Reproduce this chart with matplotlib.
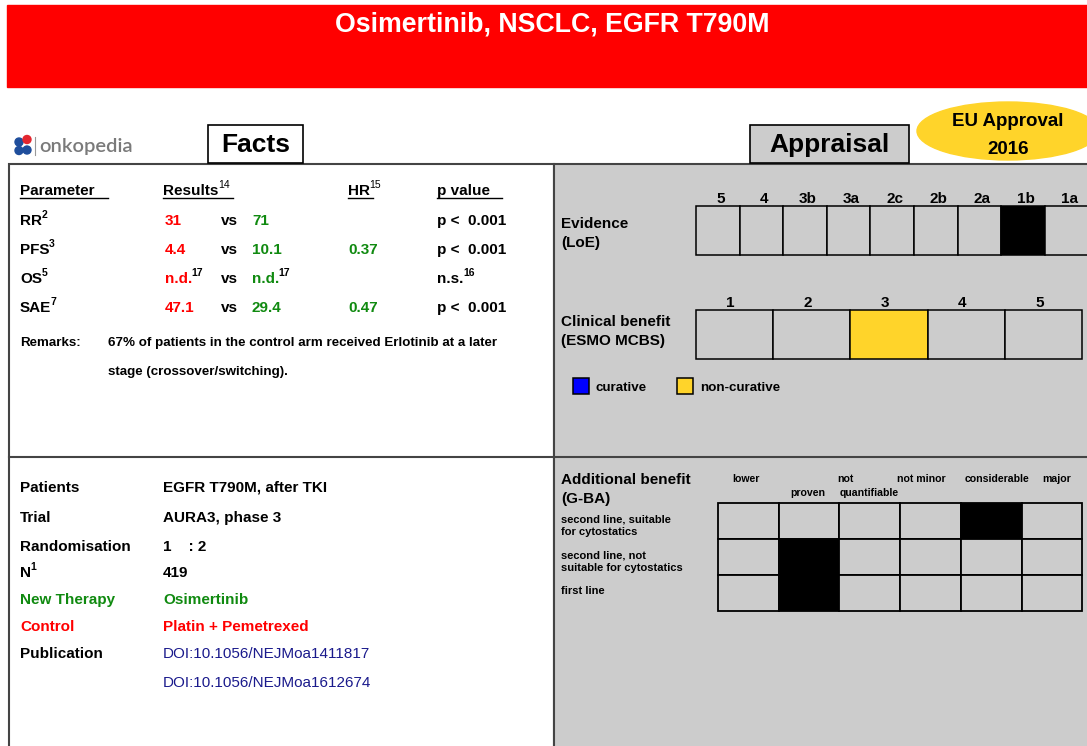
import matplotlib
matplotlib.use('Agg')
import matplotlib.pyplot as plt
from matplotlib.patches import Rectangle, Ellipse, Circle

plt.rcParams['font.family'] = ['Liberation Sans', 'DejaVu Sans']

################################################################################
# Data #
title = 'Osimertinib, NSCLC, EGFR T790M'
approval = ['EU Approval', '2016']

params       = ['RR', 'PFS', 'OS', 'SAE']
param_refs   = ['2', '3', '5', '7']
control_vals = ['31', '4.4', 'n.d.', '47.1']
control_refs = ['', '', '17', '']
new_vals     = ['71', '10.1', 'n.d.', '29.4']
new_refs     = ['', '', '17', '']
hr_vals      = ['', '0.37', '', '0.47']
p_vals       = ['p <  0.001', 'p <  0.001', 'n.s.', 'p <  0.001']
p_refs       = ['', '', '16', '']
remarks      = ['67% of patients in the control arm received Erlotinib at a later',
                'stage (crossover/switching).']

trial_labels = ['Patients', 'Trial', 'Randomisation', 'N', 'New Therapy',
                'Control', 'Publication', '']
trial_refs   = ['', '', '', '1', '', '', '', '']
trial_values = ['EGFR T790M, after TKI', 'AURA3, phase 3', '1    : 2', '419',
                'Osimertinib', 'Platin + Pemetrexed',
                'DOI:10.1056/NEJMoa1411817', 'DOI:10.1056/NEJMoa1612674']
trial_kinds  = ['plain', 'plain', 'plain', 'plain', 'new', 'control', 'doi', 'doi']

loe_levels   = ['5', '4', '3b', '3a', '2c', '2b', '2a', '1b', '1a']
loe_selected = '1b'

mcbs_levels   = ['1', '2', '3', '4', '5']
mcbs_selected = '3'
mcbs_kind     = 'non-curative'

gba_rows = ['second line, suitable\nfor cytostatics',
            'second line, not\nsuitable for cytostatics',
            'first line']
gba_cols = ['lower', 'not proven', 'not quantifiable', 'not minor', 'considerable', 'major']
gba_selected = [4, 1, 1]   # column chosen for each row

################################################################################
# Styles #
RED, GREEN, NAVY = '#ff0000', '#108a10', '#1a1a8c'
GRAY, EDGE, YELLOW, BLUE = '#cccccc', '#444444', '#ffd42a', '#0000ff'
kind_color = {'plain': 'black', 'new': GREEN, 'control': RED, 'doi': NAVY}

W, H = 1087, 746
fig = plt.figure(figsize=(W / 100, H / 100), dpi=100)
ax = fig.add_axes([0, 0, 1, 1])
ax.set_xlim(0, W)
ax.set_ylim(H, 0)
ax.axis('off')
renderer = fig.canvas.get_renderer()

def txt(x, y, s, size=11, bold=True, color='black', ha='left', **kw):
    return ax.text(x, y, s, fontsize=size, color=color, ha=ha, va='baseline',
                   fontweight='bold' if bold else 'normal', **kw)

def sup_txt(x, y, s, ref, size=11, bold=True, color='black', ref_bold=True, ref_size=7.5):
    t = txt(x, y, s, size, bold, color)
    if ref:
        right = t.get_window_extent(renderer).x1
        txt(right - 0.5, y - 7, ref, ref_size, ref_bold, 'black')
    return t

################################################################################
# Banner #
ax.add_patch(Rectangle((7, 5), W - 7, 82, color=RED, zorder=1))
txt(552, 32, title, 19.3, True, 'white', ha='center')

# Logo #
for (cx, cy), c in zip([(19, 142), (27, 139.5), (19, 150.5), (27, 150)],
                       ['#1f4e9c', '#e3262f', '#1f4e9c', '#1f4e9c']):
    ax.add_patch(Circle((cx, cy), 4, color=c))
ax.plot([35, 35], [137, 155], color='#999999', lw=0.8)
ax.text(39, 152, 'onkopedia', fontsize=14.5, color='#7a7a7a', family='Lato',
        fontweight='semibold', va='baseline')

# Headers #
ax.add_patch(Rectangle((208, 125), 95, 38, facecolor='white', edgecolor='black', lw=1.2, zorder=3))
txt(255.5, 152, 'Facts', 19, ha='center', zorder=4)
ax.add_patch(Rectangle((750, 125), 159, 38, facecolor=GRAY, edgecolor='black', lw=1.2, zorder=3))
txt(829.5, 152, 'Appraisal', 19, ha='center', zorder=4)
ax.add_patch(Ellipse((1008, 131), 182, 58, color=YELLOW, zorder=3))
txt(1008, 126, approval[0], 13.5, ha='center', zorder=4)
txt(1008, 154, approval[1], 13.5, ha='center', zorder=4)

# Panels #
ax.add_patch(Rectangle((9, 164), 545, 300 + H, facecolor='white', edgecolor=EDGE, lw=1.5, zorder=1))
ax.add_patch(Rectangle((554, 164), 600, 300 + H, facecolor=GRAY, edgecolor=EDGE, lw=1.5, zorder=1))
ax.plot([9, W], [457, 457], color=EDGE, lw=1.5, zorder=2)

################################################################################
# Facts: results table #
col_x = {'param': 20, 'ctrl': 165, 'vs': 221, 'new': 252, 'hr': 348, 'p': 437}
hy = 195
sup_txt(20, hy, 'Parameter', '')
sup_txt(163, hy, 'Results', '14', ref_bold=False)
sup_txt(348, hy, 'HR', '15', ref_bold=False)
sup_txt(437, hy, 'p value', '')
for x0, x1 in [(20, 108), (163, 233), (348, 373), (437, 502)]:
    ax.plot([x0, x1], [hy + 3, hy + 3], color='black', lw=1)

for i, p in enumerate(params):
    y = 225 + i * 29
    sup_txt(col_x['param'], y, p, param_refs[i])
    sup_txt(col_x['ctrl'], y, control_vals[i], control_refs[i], color=RED)
    txt(col_x['vs'], y, 'vs')
    sup_txt(col_x['new'], y, new_vals[i], new_refs[i], color=GREEN)
    txt(col_x['hr'], y, hr_vals[i], color=GREEN)
    sup_txt(col_x['p'], y, p_vals[i], p_refs[i])

txt(20, 346, 'Remarks:', 9.6)
for i, line in enumerate(remarks):
    txt(108, 346 + i * 29, line, 9.6)

# Facts: trial details #
trial_y = [492, 522, 551, 577, 604, 631, 658, 687]
for lab, ref, val, kind, y in zip(trial_labels, trial_refs, trial_values, trial_kinds, trial_y):
    c = kind_color[kind]
    lab_c = 'black' if kind == 'doi' else c
    sup_txt(20, y, lab, ref, color=lab_c)
    txt(163, y, val, color=c, bold=(kind != 'doi'))

################################################################################
# Appraisal: level of evidence #
txt(561, 228, 'Evidence', 11)
txt(561, 247, '(LoE)', 11)
lx0, lw_, ly0, lh = 696, 43.6, 206, 49
for i, lev in enumerate(loe_levels):
    fc = 'black' if lev == loe_selected else GRAY
    ax.add_patch(Rectangle((lx0 + i * lw_, ly0), lw_, lh, facecolor=fc, edgecolor='black', lw=1.1, zorder=3))
    txt(lx0 + i * lw_ + lw_ / 2 + 3, ly0 - 3, lev, 11, ha='center')

# Appraisal: ESMO MCBS #
txt(561, 326, 'Clinical benefit', 11)
txt(561, 345, '(ESMO MCBS)', 11)
mx0, mw, my0, mh = 696, 77.2, 310, 49
sel_color = YELLOW if mcbs_kind == 'non-curative' else BLUE
for i, lev in enumerate(mcbs_levels):
    fc = sel_color if lev == mcbs_selected else GRAY
    ax.add_patch(Rectangle((mx0 + i * mw, my0), mw, mh, facecolor=fc, edgecolor='black', lw=1.1, zorder=3))
    txt(mx0 + i * mw + mw / 2 - 4, my0 - 3, lev, 11, ha='center')

for x, c, lab in [(573, BLUE, 'curative'), (677, YELLOW, 'non-curative')]:
    ax.add_patch(Rectangle((x, 378), 16, 16, facecolor=c, edgecolor='black', lw=1.1, zorder=3))
    txt(x + 23, 391, lab, 9.6)

# Appraisal: G-BA #
txt(561, 484, 'Additional benefit', 11)
txt(561, 503, '(G-BA)', 11)
gx0, gw, gy0, gh = 718, 60.7, 503, 36
hdr = [('lower', 746, 482), ('not', 845, 482), ('proven', 808, 496),
       ('quantifiable', 869, 496), ('not minor', 921, 482),
       ('considerable', 997, 482), ('major', 1057, 482)]
for s, x, y in hdr:
    txt(x, y, s, 7.6, ha='center')
for r, lab in enumerate(gba_rows):
    ty = gy0 + r * gh + 19
    for k, line in enumerate(lab.split('\n')):
        txt(561, ty + k * 13, line, 8)
    for c in range(len(gba_cols)):
        fc = 'black' if gba_selected[r] == c else GRAY
        ax.add_patch(Rectangle((gx0 + c * gw, gy0 + r * gh), gw, gh, facecolor=fc,
                               edgecolor='black', lw=1.3, zorder=3))

fig.savefig('out.png', dpi=100)
